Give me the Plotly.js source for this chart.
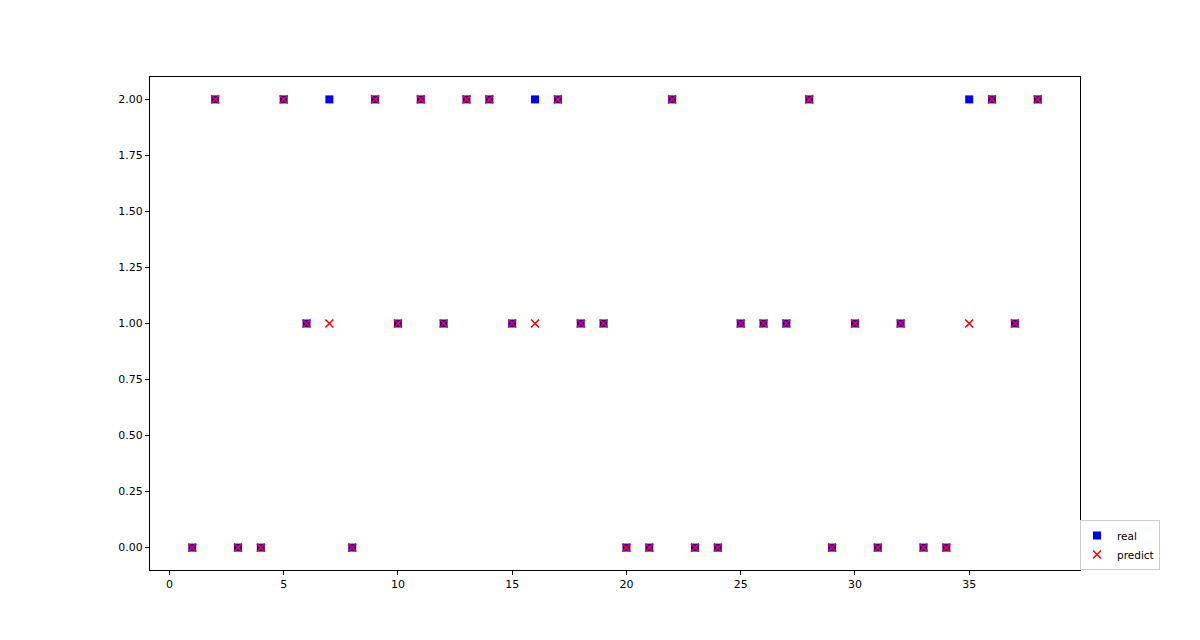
<!DOCTYPE html>
<html><head><meta charset="utf-8">
<script src="https://cdn.plot.ly/plotly-3.0.1.min.js"></script>
<style>body{margin:0;background:#fff}#chart{width:1200px;height:640px}</style>
</head><body><div id="chart"></div>
<script>
const xs = [1,2,3,4,5,6,7,8,9,10,11,12,13,14,15,16,17,18,19,20,21,22,23,24,25,26,27,28,29,30,31,32,33,34,35,36,37,38];
const real = [0,2,0,0,2,1,2,0,2,1,2,1,2,2,1,2,2,1,1,0,0,2,0,0,1,1,1,2,0,1,0,1,0,0,2,2,1,2];
const predict = [0,2,0,0,2,1,1,0,2,1,2,1,2,2,1,1,2,1,1,0,0,2,0,0,1,1,1,2,0,1,0,1,0,0,1,2,1,2];
const yTicks = [0,0.25,0.5,0.75,1,1.25,1.5,1.75,2];
const yTickText = yTicks.map(v => v.toFixed(2));
const xTicks = [0,5,10,15,20,25,30,35];

const traces = [
  {x: xs, y: real, name: 'real', type: 'scatter', mode: 'markers',
   marker: {symbol: 'square', size: 8, color: '#0000ff'}},
  {x: xs, y: predict, name: 'predict', type: 'scatter', mode: 'markers',
   marker: {symbol: 'x-thin', size: 8, color: '#ff0000', line: {color: '#ff0000', width: 1.6}}}
];
const axisCommon = {showgrid: false, zeroline: false, showline: true, mirror: true,
  linecolor: '#000', linewidth: 1, ticks: 'outside', ticklen: 4, tickcolor: '#000',
  tickfont: {family: 'DejaVu Sans', size: 11, color: '#000'}};
const layout = {
  width: 1200, height: 640,
  margin: {l: 150, r: 120, t: 77, b: 70},
  paper_bgcolor: '#fff', plot_bgcolor: '#fff',
  xaxis: Object.assign({}, axisCommon, {range: [-0.85, 39.85], tickvals: xTicks}),
  yaxis: Object.assign({}, axisCommon, {range: [-0.1, 2.1], tickvals: yTicks, ticktext: yTickText}),
  showlegend: true,
  legend: {x: 1.0, y: 0.0, xanchor: 'left', yanchor: 'bottom', bgcolor: '#fff',
    bordercolor: '#ccc', borderwidth: 1, font: {family: 'DejaVu Sans', size: 10.5, color: '#000'},
    tracegroupgap: 0, itemwidth: 30, indentation: -4}
};
Plotly.newPlot('chart', traces, layout, {displayModeBar: false});
</script></body></html>
